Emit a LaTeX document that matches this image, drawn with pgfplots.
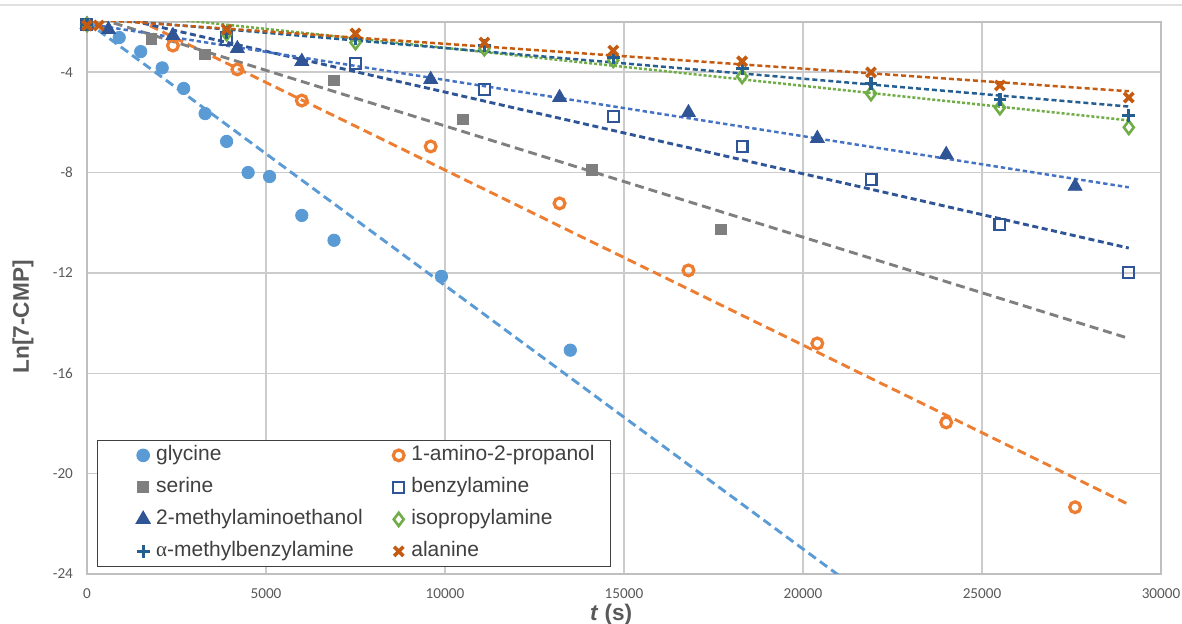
\documentclass[border=0pt]{standalone}
\usepackage{pgfplots}
\pgfplotsset{compat=1.18}
\usepackage{fontspec}
\setmainfont{Liberation Sans}
\newfontfamily\calibri{Carlito}
\newfontfamily\greek{Liberation Serif}

\definecolor{cgly}{HTML}{5B9BD5}
\definecolor{cami}{HTML}{ED7D31}
\definecolor{cser}{HTML}{7F7F7F}
\definecolor{cbenz}{HTML}{2F5597}
\definecolor{cmae}{HTML}{4472C4}
\definecolor{ciso}{HTML}{70AD47}
\definecolor{cmbz}{HTML}{255E91}
\definecolor{cala}{HTML}{C55A11}
\definecolor{tickgray}{HTML}{595959}
\definecolor{gridgray}{HTML}{CCCCCC}
\definecolor{axisgray}{HTML}{BFBFBF}
\definecolor{leggray}{HTML}{404040}

\pgfplotsset{
  mk/.style={only marks,
    legend image code/.code={\path (-17.5pt,0pt) (3pt,0pt);\draw[##1] plot coordinates {(0pt,0pt)};}},
  trend/.style={forget plot, no marks, line width=1.45pt},
}

\begin{document}
\begin{tikzpicture}
\begin{axis}[
  scale only axis,
  width=537pt, height=276pt,
  xmin=0, xmax=30000, ymin=-24, ymax=-2,
  xtick={0,5000,...,30000},
  ytick={-24,-20,-16,-12,-8,-4},
  scaled x ticks=false,
  /pgf/number format/set thousands separator={},
  /pgf/number format/assume math mode=true,
  tick label style={font=\calibri\fontsize{7.6}{9}\selectfont, text=tickgray},
  xticklabel style={yshift=-3.7pt},
  yticklabel style={xshift=-3.5pt},
  major tick length=0pt,
  grid=major,
  grid style={draw=gridgray, line width=0.75pt},
  axis line style={draw=axisgray, line width=0.9pt},
  xlabel={\textbf{\textit{t} (s)}},
  ylabel={\textbf{Ln[7-CMP]}},
  label style={font=\fontsize{11.3}{13}\selectfont, text=tickgray},
  xlabel style={at={(axis description cs:0.488,0)}, anchor=center, yshift=-20.5pt},
  ylabel style={at={(axis description cs:-0.0596,0.466)}, anchor=center},
  legend columns=2,
  legend cell align=left,
  legend style={
    at={(axis description cs:0.0093,0.0127)}, anchor=south west,
    draw=leggray, line width=0.6pt, fill=white,
    font=\fontsize{10.5}{12}\selectfont, text=leggray,
    inner xsep=5pt, inner ysep=1.65pt,
    row sep=4.3pt,
    nodes={text height=7.5pt, text depth=2.2pt, inner ysep=1pt, inner xsep=3pt},
    /tikz/every even column/.append style={column sep=-2.8pt},
  },
]

% glycine
\addplot[mk, mark=*, mark size=3.1pt, color=cgly] coordinates {
  (0,-2.1) (900,-2.62) (1500,-3.18) (2100,-3.83) (2700,-4.65) (3300,-5.65)
  (3900,-6.76) (4500,-8.0) (5100,-8.16) (6000,-9.71) (6900,-10.7)
  (9900,-12.14) (13500,-15.08)
};
\addlegendentry{glycine}

% 1-amino-2-propanol
\addplot[mk, mark=o, mark size=2.7pt, color=cami, mark options={line width=1.6pt}] coordinates {
  (0,-2.1) (2400,-2.94) (4200,-3.89) (6000,-5.13) (9600,-6.96) (13200,-9.23)
  (16800,-11.9) (20400,-14.81) (24000,-17.96) (27600,-21.34)
};
\addlegendentry{1-amino-2-propanol}

% serine
\addplot[mk, mark=square*, mark size=2.7pt, color=cser] coordinates {
  (0,-2.1) (1800,-2.66) (3300,-3.29) (6900,-4.33) (10500,-5.88)
  (14100,-7.88) (17700,-10.27)
};
\addlegendentry{serine}

% benzylamine
\addplot[mk, mark=square, mark size=2.7pt, color=cbenz, mark options={line width=1.1pt}] coordinates {
  (0,-2.1) (3900,-2.70) (7500,-3.65) (11100,-4.69) (14700,-5.76)
  (18300,-6.96) (21900,-8.27) (25500,-10.07) (29100,-11.98)
};
\addlegendentry{benzylamine}

% 2-methylaminoethanol
\addplot[mk, mark=triangle*, mark size=4pt, color=cbenz] coordinates {
  (0,-2.1) (600,-2.30) (2400,-2.54) (4200,-3.06) (6000,-3.57) (9600,-4.29)
  (13200,-5.01) (16800,-5.61) (20400,-6.64) (24000,-7.28) (27600,-8.55)
};
\addlegendentry{2-methylaminoethanol}

% isopropylamine
\addplot[mk, mark=diamond, mark size=3.3pt, color=ciso, mark options={line width=1.3pt}] coordinates {
  (0,-2.1) (3900,-2.46) (7500,-2.82) (11100,-3.06) (14700,-3.53)
  (18300,-4.17) (21900,-4.85) (25500,-5.41) (29100,-6.20)
};
\addlegendentry{isopropylamine}

% alpha-methylbenzylamine
\addplot[mk, mark=+, mark size=3.2pt, color=cmbz, mark options={line width=1.6pt}] coordinates {
  (0,-2.1) (3900,-2.42) (7500,-2.66) (11100,-2.94) (14700,-3.41)
  (18300,-3.85) (21900,-4.45) (25500,-5.09) (29100,-5.73)
};
\addlegendentry{{\greek α}-methylbenzylamine}

% alanine
\addplot[mk, mark=x, mark size=3.3pt, color=cala, mark options={line width=1.8pt}] coordinates {
  (0,-2.14) (330,-2.14) (3900,-2.30) (7500,-2.46) (11100,-2.82) (14700,-3.14)
  (18300,-3.57) (21900,-4.01) (25500,-4.53) (29100,-5.01)
};
\addlegendentry{alanine}

% linear trendlines
\addplot[trend, cgly, dash pattern=on 4.5pt off 2.5pt] coordinates {(0,-2.0) (29100,-32.56)};
\addplot[trend, cami, dash pattern=on 4.5pt off 2.5pt] coordinates {(0,-0.92) (29100,-21.23)};
\addplot[trend, cser, dash pattern=on 4.5pt off 2.5pt] coordinates {(0,-1.71) (29100,-14.61)};
\addplot[trend, cbenz, dash pattern=on 3pt off 1.8pt] coordinates {(0,-1.54) (29100,-11.01)};
\addplot[trend, cmae, line width=1.25pt, dash pattern=on 2.2pt off 1.5pt] coordinates {(0,-2.07) (29100,-8.59)};
\addplot[trend, ciso, line width=1.25pt, dash pattern=on 1.5pt off 1pt] coordinates {(0,-1.52) (29100,-5.92)};
\addplot[trend, cmbz, line width=1.25pt, dash pattern=on 2.5pt off 1.5pt] coordinates {(0,-1.82) (29100,-5.37)};
\addplot[trend, cala, line width=1.25pt, dash pattern=on 2.5pt off 1.5pt] coordinates {(0,-1.88) (29100,-4.76)};

\end{axis}
\draw[draw=black!12, line width=0.8pt]
  ([xshift=-43.5pt,yshift=8.5pt]current axis.north west) --
  ([xshift=10.5pt,yshift=8.5pt]current axis.north east);
\pgfresetboundingbox
\path ([xshift=-43.5pt,yshift=-25pt]current axis.south west) rectangle
      ([xshift=10.5pt,yshift=11pt]current axis.north east);
\end{tikzpicture}
\end{document}
